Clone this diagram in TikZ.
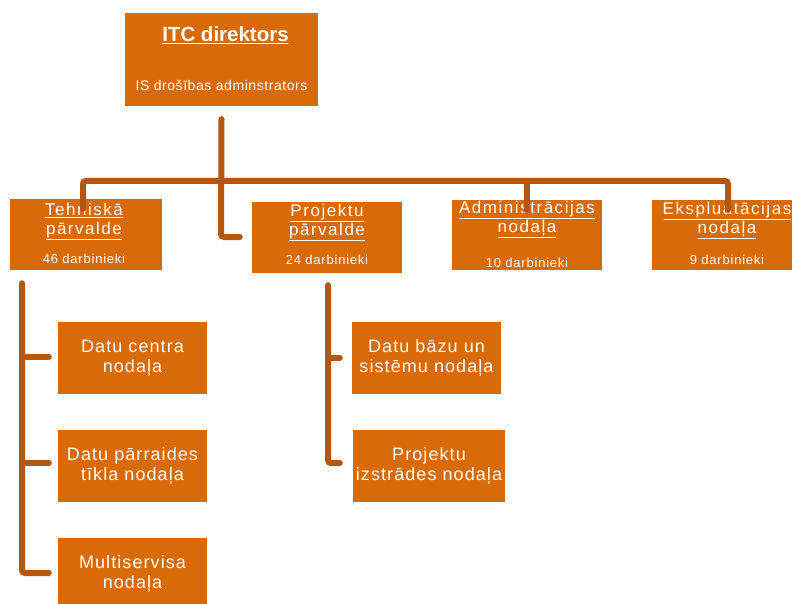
\documentclass[tikz,border=0pt]{standalone}
\usepackage{fontspec}
\setmainfont{Liberation Sans}
\definecolor{boxfill}{RGB}{216,106,8}
\definecolor{linkcol}{RGB}{178,88,20}
\begin{document}
\begin{tikzpicture}[x=1pt,y={(0pt,-1pt)},
  orgbox/.style={fill=boxfill,draw=none,inner sep=0pt,text=white},
  link/.style={draw=linkcol,line width=6pt,rounded corners=3pt,line cap=round},
  tl/.style={text=white,inner sep=0pt,align=center,font=\fontsize{17}{19}\selectfont\addfontfeature{LetterSpace=9}},
  cnt/.style={text=white,inner sep=0pt,font=\fontsize{13}{15}\selectfont\addfontfeature{LetterSpace=6}},
  sub/.style={orgbox,align=center,font=\fontsize{18}{20}\selectfont\addfontfeature{LetterSpace=6}}]
\useasboundingbox (0,0) rectangle (792,604);
\fill[white] (0,0) rectangle (792,604);
% boxes
\node[orgbox,minimum width=193pt,minimum height=93pt] (top) at (221.5,59.5) {};
\node[orgbox,minimum width=152pt,minimum height=71pt] (tech) at (86,234.5) {};
\node[orgbox,minimum width=150pt,minimum height=71pt] (proj) at (327,237.5) {};
\node[orgbox,minimum width=150pt,minimum height=70pt] (adm) at (527,235) {};
\node[orgbox,minimum width=150pt,minimum height=70pt] (eks) at (727,235) {};
\node[sub,minimum width=149pt,minimum height=72pt] (dc) at (132.5,358) {Datu centra\\nodaļa};
\node[sub,minimum width=149pt,minimum height=72pt] (dp) at (132.5,466) {Datu pārraides\\tīkla nodaļa};
\node[sub,minimum width=149pt,minimum height=72pt] (ms) at (132.5,574) {Multiservisa\\nodaļa};
\node[sub,minimum width=149pt,minimum height=72pt] (db) at (426.5,358) {Datu bāzu un\\sistēmu nodaļa};
\node[sub,minimum width=152pt,minimum height=72pt] (pi) at (429,466) {Projektu\\izstrādes nodaļa};
% texts
\node[text=white,inner sep=0pt,font=\fontsize{20.5}{22}\selectfont\bfseries] (toptitle) at ([yshift=-22pt,xshift=4pt]top.north) {\underline{ITC direktors}};
\node[text=white,inner sep=0pt,font=\fontsize{14}{16}\selectfont\addfontfeature{LetterSpace=4}] (topsub) at ([yshift=-73pt]top.north) {IS drošības adminstrators};
\node[tl] (techt) at ([yshift=-23pt,xshift=-2pt]tech.north) {\underline{Tehniskā}\\\underline{pārvalde}};
\node[cnt] (techc) at ([yshift=-60pt,xshift=-2pt]tech.north) {46 darbinieki};
\node[tl] (projt) at ([yshift=-21pt]proj.north) {\underline{Projektu}\\\underline{pārvalde}};
\node[cnt] (projc) at ([yshift=-58pt]proj.north) {24 darbinieki};
\node[tl] (admt) at ([yshift=-20pt]adm.north) {\underline{Administrācijas}\\\underline{nodaļa}};
\node[cnt] (admc) at ([yshift=-63pt]adm.north) {10 darbinieki};
\node[tl] (ekst) at ([yshift=-21pt]eks.north) {\underline{Ekspluatācijas}\\\underline{nodaļa}};
\node[cnt] (eksc) at ([yshift=-60pt]eks.north) {9 darbinieki};
% connectors
\coordinate (bustech) at (tech.north -| 83,0);
\draw[link] ([yshift=-10pt]bustech) -- (83,181) -- (728,181) -- ([yshift=-10pt]eks.north -| 728,0);
\draw[link] (527,181) -- ([yshift=-11pt]adm.north);
\draw[link] ([yshift=-13pt]top.south) -- (221,237) -- ([xshift=-12pt]proj.west |- 0,237);
\draw[link] ([yshift=-13pt]tech.south -| 22,0) -- (22,573) -- ([xshift=-9pt]ms.west |- 0,573);
\draw[link] (22,357) -- ([xshift=-9pt]dc.west |- 0,357);
\draw[link] (22,463) -- ([xshift=-9pt]dp.west |- 0,463);
\draw[link] ([yshift=-12pt]proj.south -| 328,0) -- (328,463) -- ([xshift=-13pt]pi.west |- 0,463);
\draw[link] (328,358) -- ([xshift=-12pt]db.west |- 0,358);
\end{tikzpicture}
\end{document}
